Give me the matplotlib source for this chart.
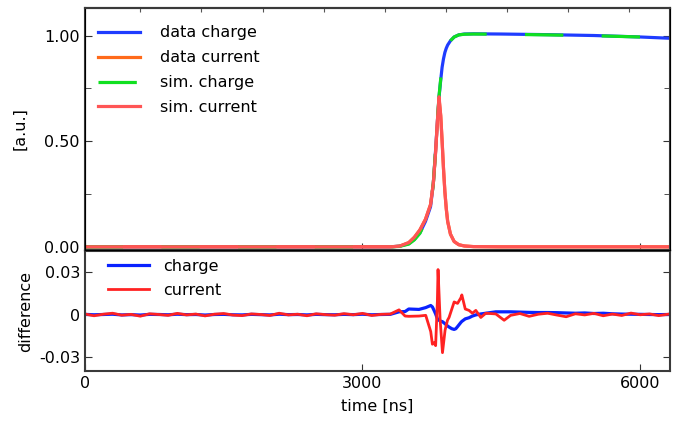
import numpy as np
import matplotlib
matplotlib.use("Agg")
import matplotlib.pyplot as plt
from matplotlib.ticker import FixedLocator

# --- top panel: normalised charge / current ---
t_top = [0, 3300, 3400, 3500, 3560, 3620, 3680, 3735, 3765, 3790, 3810, 3827,
         3845, 3860, 3875, 3890, 3905, 3920, 3950, 3990, 4040, 4100, 4200,
         4500, 5000, 5500, 6000, 6320]
data_charge = [0, 0, 0.003, 0.015, 0.035, 0.066, 0.12, 0.19, 0.30, 0.46, 0.60, 0.71,
               0.79, 0.85, 0.89, 0.92, 0.94, 0.955, 0.975, 0.993, 1.003, 1.007, 1.008,
               1.007, 1.004, 1.0, 0.993, 0.987]
sim_charge = [0, 0, 0.002, 0.013, 0.033, 0.064, 0.118, 0.188, 0.30, 0.46, 0.605, 0.715,
              0.795, 0.853, 0.892, 0.921, 0.94, 0.955, 0.975, 0.993, 1.003, 1.006, 1.007,
              1.006, 1.003, 0.999, 0.993, 0.987]
data_current = [0, 0, 0.003, 0.02, 0.045, 0.08, 0.13, 0.20, 0.30, 0.45, 0.60, 0.70,
                0.62, 0.50, 0.37, 0.26, 0.18, 0.12, 0.06, 0.025, 0.01, 0.004, 0.001,
                0, 0, 0, 0, 0]
sim_current = [0, 0, 0.003, 0.02, 0.045, 0.08, 0.13, 0.20, 0.30, 0.45, 0.60, 0.71,
               0.62, 0.50, 0.37, 0.26, 0.18, 0.12, 0.06, 0.025, 0.01, 0.004, 0.001,
               0, 0, 0, 0, 0]

# --- bottom panel: difference data - sim (units of 1e-3) ---
t_left = list(range(0, 3400, 100))
t_event = [3395, 3460, 3500, 3610, 3683, 3737, 3755, 3773, 3790, 3809, 3816, 3838,
           3864, 3892, 3918, 3935, 3965, 3990, 4008, 4027, 4063, 4073, 4110, 4151,
           4187, 4224, 4278, 4332, 4440, 4530]
t_right = list(range(4600, 6400, 100))

diff_charge_left = [0.2, -0.1, 0.1, 0.3, -0.2, 0.0, -0.3, 0.2, 0.1, -0.1, 0.3, 0.0,
                    0.1, -0.3, 0.1, 0.2, -0.1, -0.2, 0.2, 0.0, -0.2, 0.3, 0.0, 0.1,
                    -0.2, 0.2, 0.0, -0.1, 0.2, 0.0, 0.3, -0.1, 0.1, 0.2]
diff_charge_event = [2.0, 2.2, 4.0, 3.7, 5.0, 6.5, 5.5, 3.0, 0.5, -3.0, -3.5, -4.5,
                     -5.0, -6.5, -8.0, -8.8, -10.0, -10.5, -10.0, -8.5, -5.5, -4.8, -3.0, -2.2,
                     -1.0, -0.2, 0.5, 1.0, 2.0, 2.0]
diff_charge_right = [2.0, 1.8, 1.6, 1.5, 1.5, 1.4, 1.2, 1.0, 1.2, 0.8, 1.0, 0.6,
                     0.4, 0.3, 0.2, 0.1, 0.0, 0.1]

diff_current_left = [0.5, -0.8, 0.3, 1.0, -0.4, 0.2, -1.1, 0.6, 0.1, -0.5, 0.9, -0.2,
                     0.4, -0.9, 0.3, 0.8, -0.3, -0.7, 0.5, 0.1, -0.6, 1.0, -0.2, 0.3,
                     -0.8, 0.6, 0.0, -0.4, 0.7, -0.1, 0.9, -0.6, 0.2, 0.4]
diff_current_event = [3.4, -1.0, -1.2, -1.0, -0.5, -12.0, -21.0, -20.0, -22.0, 10.0, 32.0, -3.0,
                      -27.0, -11.0, -4.0, -2.0, 4.0, 9.0, 8.5, 8.0, 12.0, 14.0, 4.0, 3.0,
                      1.0, 3.0, -2.0, 1.0, 0.5, -4.0]
diff_current_right = [-0.5, 0.8, -1.2, 0.3, 1.0, -0.3, -1.5, 0.6, -0.2, 0.9, -0.8, 0.4,
                      -0.6, 1.1, -0.1, 0.5, -0.7, 0.3]

t_diff = np.array(t_left + t_event + t_right)
d_charge = np.array(diff_charge_left + diff_charge_event + diff_charge_right) * 1e-3
d_current = np.array(diff_current_left + diff_current_event + diff_current_right) * 1e-3

fs = 11.5
plt.rcParams['font.family'] = 'DejaVu Sans'
plt.rcParams['font.size'] = fs

fig = plt.figure(figsize=(6.78, 4.23), dpi=100)
ax1 = fig.add_axes([0.125, 0.409, 0.863, 0.572])
ax2 = fig.add_axes([0.125, 0.123, 0.863, 0.283], sharex=ax1)

# top panel
ax1.plot(t_top, data_charge, color='#1f3cff', lw=2.3, label='data charge')
ax1.plot(t_top, data_current, color='#ff6a1a', lw=2.3, label='data current')
ax1.plot(t_top, sim_charge, color='#10e020', lw=2.3, dashes=(12, 12), label='sim. charge')
ax1.plot(t_top, sim_current, color='#ff5555', lw=2.3, label='sim. current')
ax1.set_xlim(0, 6320)
ax1.set_ylim(-0.015, 1.13)
ax1.yaxis.set_major_locator(FixedLocator([0.0, 0.5, 1.0]))
ax1.yaxis.set_minor_locator(FixedLocator([0.25, 0.75]))
ax1.set_yticklabels(['0.00', '0.50', '1.00'])
ax1.set_ylabel('[a.u.]', labelpad=12)
ax1.tick_params(axis='x', labelbottom=False)
ax1.legend(loc='upper left', frameon=False, handlelength=2.6, labelspacing=0.62,
           borderaxespad=0.0, handletextpad=1.3, fontsize=fs, bbox_to_anchor=(0.012, 0.955))

# decorative ticks on the upper frame
top = ax1.twiny()
top.set_xlim(ax1.get_xlim())
top.xaxis.set_major_locator(FixedLocator(np.arange(600, 6320, 660)))
top.tick_params(axis='x', direction='in', length=3, labeltop=False, color='#555555')

# bottom panel
ax2.plot(t_diff, d_charge, color='#0a22ff', lw=2.3, label='charge')
ax2.plot(t_diff, d_current, color='#ff2222', lw=2.0, label='current')
ax2.set_ylim(-0.040, 0.045)
ax2.set_yticks([-0.03, 0, 0.03])
ax2.set_yticklabels(['-0.03', '0', '0.03'])
ax2.set_xticks([0, 3000, 6000])
ax2.set_xticklabels(['0', '3000', '6000'])
ax2.set_xlabel('time [ns]', labelpad=6)
ax2.set_ylabel('difference', labelpad=4)
ax2.legend(loc='upper left', frameon=False, handlelength=2.6, labelspacing=0.55,
           borderaxespad=0.0, handletextpad=0.9, fontsize=fs, bbox_to_anchor=(0.028, 0.99))

for ax in (ax1, ax2):
    for sp in ax.spines.values():
        sp.set_color('#3a3a3a')
        sp.set_linewidth(1.5)
    ax.tick_params(which='both', direction='in', right=True, length=5, color='#333333')
    ax.tick_params(which='minor', length=4)
top.spines['top'].set_linewidth(1.5)
top.spines['top'].set_color('#3a3a3a')

fig.savefig('out.png', dpi=100)
